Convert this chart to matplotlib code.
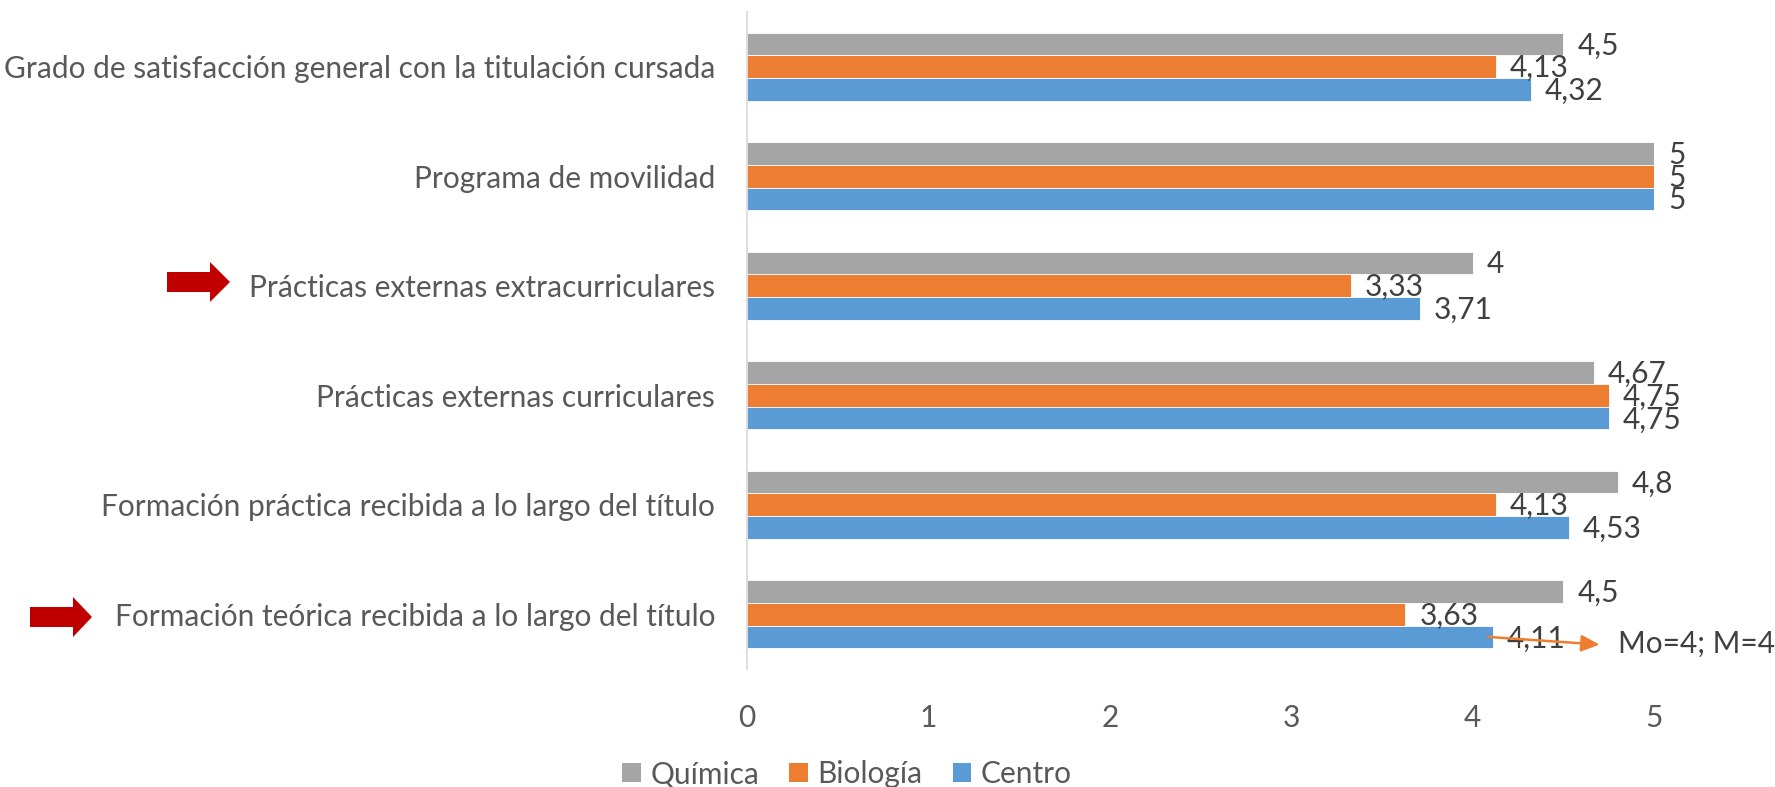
import matplotlib
matplotlib.use("Agg")
import matplotlib.pyplot as plt
import numpy as np
from matplotlib.patches import Polygon, Patch

plt.rcParams['font.family'] = ['Lato', 'DejaVu Sans']

categories = [
    "Grado de satisfacción general con la titulación cursada",
    "Programa de movilidad",
    "Prácticas externas extracurriculares",
    "Prácticas externas curriculares",
    "Formación práctica recibida a lo largo del título",
    "Formación teórica recibida a lo largo del título",
]
quimica = [4.5, 5, 4, 4.67, 4.8, 4.5]
biologia = [4.13, 5, 3.33, 4.75, 4.13, 3.63]
centro = [4.32, 5, 3.71, 4.75, 4.53, 4.11]
series_names = ["Química", "Biología", "Centro"]
xticks = [0, 1, 2, 3, 4, 5]
note_text = "Mo=4; M=4"

colors = ["#A5A5A5", "#ED7D31", "#5B9BD5"]
W, H = 1775, 787
fig = plt.figure(figsize=(W / 100, H / 100), dpi=100)
ax = fig.add_axes([747 / W, 1 - 669 / H, (1654 - 747) / W, (669 - 12) / H])

y = np.arange(len(categories))
h = 0.207
fs = 21.5
for k, (vals, col, name) in enumerate(zip([quimica, biologia, centro], colors, series_names)):
    pos = y + (k - 1) * h
    ax.barh(pos, vals, height=h, color=col, edgecolor="white", linewidth=0.6, label=name)
    for p, v in zip(pos, vals):
        lbl = ("%g" % v).replace(".", ",")
        ax.annotate(lbl, xy=(v, p), xytext=(10, -1), textcoords="offset points",
                    va="center", ha="left", fontsize=fs, color="#404040",
                    annotation_clip=False)

ax.set_ylim(len(categories) - 0.5, -0.5)
ax.set_xlim(0, 5)
ax.set_yticks(y)
ax.set_yticklabels(categories, fontsize=fs, color="#595959")
ax.set_xticks(xticks)
ax.set_xticklabels([str(t) for t in xticks], fontsize=fs, color="#595959")
ax.tick_params(axis="y", length=0, pad=23)
ax.tick_params(axis="x", length=0, pad=25)
for s in ["top", "right", "bottom"]:
    ax.spines[s].set_visible(False)
ax.spines["left"].set_color("#D9D9D9")
ax.spines["left"].set_linewidth(1.2)

# annotation arrow on Centro bar of last category
last = len(categories) - 1
yb = last + h
ax.annotate("", xy=(4.70, yb + 0.07), xytext=(4.085, yb),
            arrowprops=dict(arrowstyle="-|>,head_length=1.1,head_width=0.5",
                            mutation_scale=10, color="#ED7D31", lw=1.8,
                            shrinkA=0, shrinkB=0),
            annotation_clip=False)
ax.text(4.80, yb + 0.065, note_text, fontsize=fs, color="#404040", va="center",
        ha="left", clip_on=False)

# red block arrows
def block_arrow(x0, xb, xt, yc, shaft, head):
    pts = [(x0, yc - shaft / 2), (xb, yc - shaft / 2), (xb, yc - head / 2), (xt, yc),
           (xb, yc + head / 2), (xb, yc + shaft / 2), (x0, yc + shaft / 2)]
    pts = [(px / W, 1 - py / H) for px, py in pts]
    fig.patches.append(Polygon(pts, closed=True, transform=fig.transFigure,
                               facecolor="#C00000", edgecolor="none"))

block_arrow(167, 210, 230, 282, 20, 40)
block_arrow(30, 73, 92, 617, 20, 40)

handles = [Patch(facecolor=c, edgecolor="none") for c in colors]
fig.legend(handles, series_names, loc="center", bbox_to_anchor=(847 / W, 1 - 774 / H),
           ncol=3, frameon=False, fontsize=fs, labelcolor="#595959",
           handlelength=0.62, handleheight=0.62, handletextpad=0.33, columnspacing=1.0)

fig.savefig("out.png", dpi=100)
